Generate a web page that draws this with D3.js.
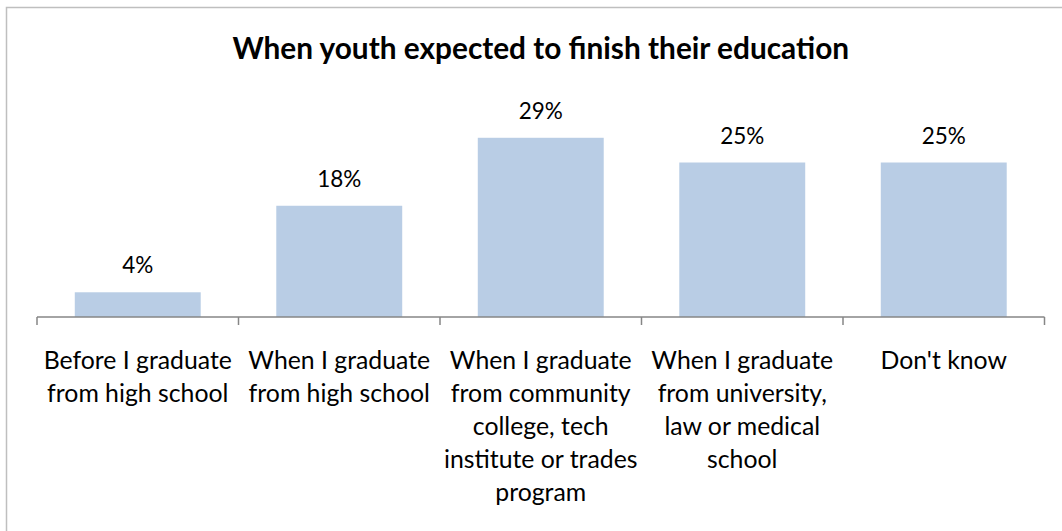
<!DOCTYPE html>
<html>
<head>
<meta charset="utf-8">
<script src="https://cdn.jsdelivr.net/npm/d3@7"></script>
<style>
  html, body { margin: 0; padding: 0; background: #fff; }
  svg { display: block; }
  text { font-family: Lato, "Open Sans", sans-serif; fill: #000; }
</style>
</head>
<body>
<div id="chart"></div>
<script>
// Categories (each split into display lines) and their shares in percent
const categories = [
  ["Before I graduate", "from high school"],
  ["When I graduate", "from high school"],
  ["When I graduate", "from community", "college, tech", "institute or trades", "program"],
  ["When I graduate", "from university,", "law or medical", "school"],
  ["Don't know"]
];
const values = [4, 18, 29, 25, 25];
const valueLabels = ["4%", "18%", "29%", "25%", "25%"];
const chartTitle = "When youth expected to finish their education";

const W = 1062, H = 531;
const svg = d3.select("#chart").append("svg").attr("width", W).attr("height", H);

// Outer frame of the chart area
svg.append("rect")
  .attr("x", 6.5).attr("y", 7.5)
  .attr("width", W + 10).attr("height", H + 10)
  .attr("fill", "none").attr("stroke", "#BFBFBF").attr("stroke-width", 1.5);

const plot = { left: 37, right: 1044.5, top: 100.7, bottom: 317 };

const x = d3.scaleBand()
  .domain(d3.range(values.length))
  .range([plot.left, plot.right])
  .paddingInner(0.375)
  .paddingOuter(0.1875);

const y = d3.scaleLinear().domain([0, 35]).range([plot.bottom, plot.top]);

// Title
svg.append("text")
  .attr("x", (plot.left + plot.right) / 2)
  .attr("y", 59)
  .attr("text-anchor", "middle")
  .attr("font-size", 29.8)
  .attr("font-weight", "bold")
  .text(chartTitle);

// Bars
svg.append("g").selectAll("rect")
  .data(values)
  .join("rect")
  .attr("x", (d, i) => x(i))
  .attr("y", d => y(d))
  .attr("width", x.bandwidth())
  .attr("height", d => y(0) - y(d))
  .attr("fill", "#B9CDE5");

// Value labels above bars
svg.append("g").selectAll("text")
  .data(values)
  .join("text")
  .attr("x", (d, i) => x(i) + x.bandwidth() / 2)
  .attr("y", d => y(d) - 19)
  .attr("text-anchor", "middle")
  .attr("font-size", 22.5)
  .text((d, i) => valueLabels[i]);

// Category axis: baseline with tick marks between categories
const edges = d3.range(values.length + 1).map(i => plot.left + i * (plot.right - plot.left) / values.length);
const axis = svg.append("g").attr("stroke", "#868686").attr("stroke-width", 1.5);
axis.append("line")
  .attr("x1", plot.left).attr("x2", plot.right)
  .attr("y1", plot.bottom).attr("y2", plot.bottom);
axis.selectAll("line.tick")
  .data(edges)
  .join("line")
  .attr("class", "tick")
  .attr("x1", d => d).attr("x2", d => d)
  .attr("y1", plot.bottom).attr("y2", plot.bottom + 8);

// Category labels, wrapped over several lines
const lab = svg.append("g").selectAll("text")
  .data(categories)
  .join("text")
  .attr("text-anchor", "middle")
  .attr("font-size", 24.8);
lab.each(function(lines, i) {
  const t = d3.select(this);
  const cx = x(i) + x.bandwidth() / 2;
  lines.forEach((line, j) => {
    t.append("tspan")
      .attr("x", cx)
      .attr("y", 369 + j * 33)
      .text(line);
  });
});
</script>
</body>
</html>
